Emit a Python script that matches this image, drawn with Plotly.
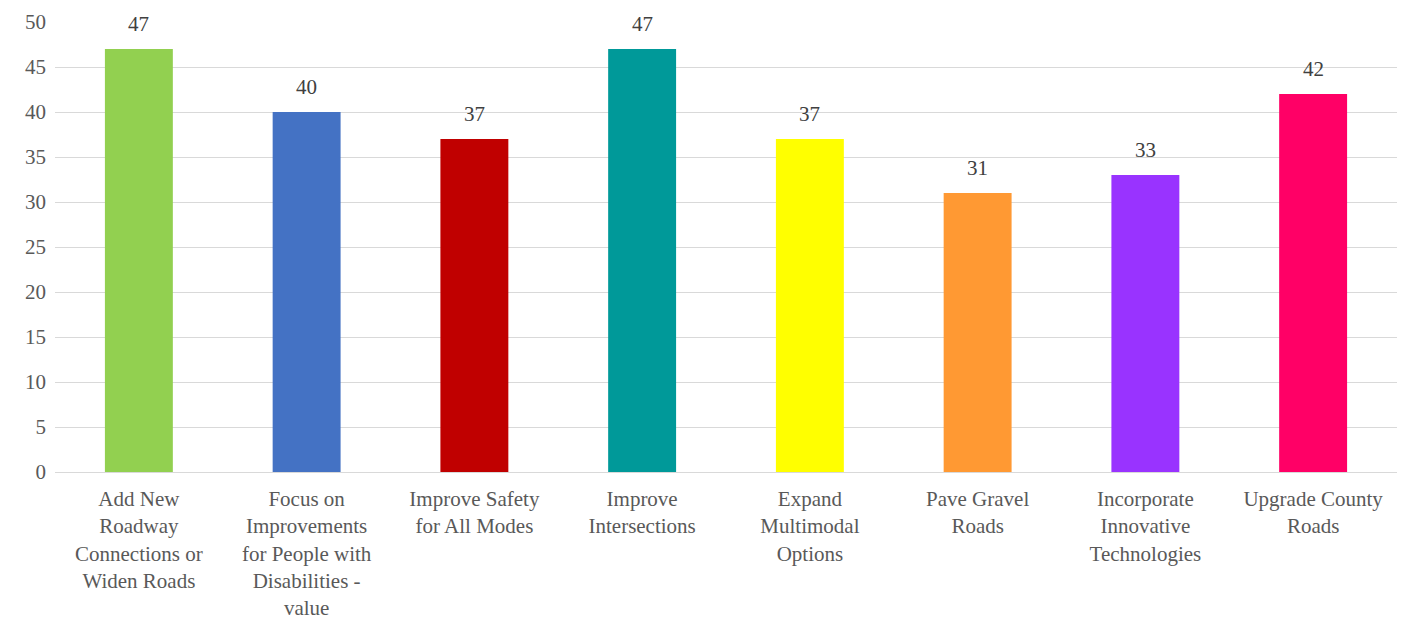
import plotly.graph_objects as go

categories = [
    "Add New<br>Roadway<br>Connections or<br>Widen Roads",
    "Focus on<br>Improvements<br>for People with<br>Disabilities -<br>value",
    "Improve Safety<br>for All Modes",
    "Improve<br>Intersections",
    "Expand<br>Multimodal<br>Options",
    "Pave Gravel<br>Roads",
    "Incorporate<br>Innovative<br>Technologies",
    "Upgrade County<br>Roads",
]
values = [47, 40, 37, 47, 37, 31, 33, 42]
colors = ["#92D050", "#4472C4", "#C00000", "#009999", "#FFFF00", "#FF9933", "#9933FF", "#FF0066"]
y_ticks = [0, 5, 10, 15, 20, 25, 30, 35, 40, 45, 50]

FONT = "Liberation Serif, DejaVu Serif"

fig = go.Figure(go.Bar(
    x=categories,
    y=values,
    marker=dict(color=colors, line=dict(width=0)),
    cliponaxis=False,
))

for c, v in zip(categories, values):
    fig.add_annotation(
        x=c, y=v, text=str(v), showarrow=False,
        yanchor="bottom", yshift=11,
        font=dict(family=FONT, size=21, color="#404040"),
    )

fig.update_layout(
    width=1401,
    height=620,
    margin=dict(l=55, r=4, t=22, b=148, autoexpand=False),
    plot_bgcolor="white",
    paper_bgcolor="white",
    bargap=0.595,
    showlegend=False,
    font=dict(family=FONT, size=21, color="#595959"),
)
fig.update_xaxes(
    automargin=False,
    showgrid=False,
    showline=False,
    ticks="",
    tickangle=0,
    ticklabelstandoff=12,
    tickfont=dict(family=FONT, size=21, color="#595959"),
)
fig.update_yaxes(
    automargin=False,
    range=[0, 50],
    tickvals=y_ticks,
    showgrid=True,
    gridcolor="#D9D9D9",
    gridwidth=1.3,
    zeroline=True,
    zerolinecolor="#D9D9D9",
    zerolinewidth=1.3,
    showline=False,
    ticks="",
    ticklabelstandoff=8,
    tickfont=dict(family=FONT, size=21, color="#595959"),
)

fig.write_html("out.html")
